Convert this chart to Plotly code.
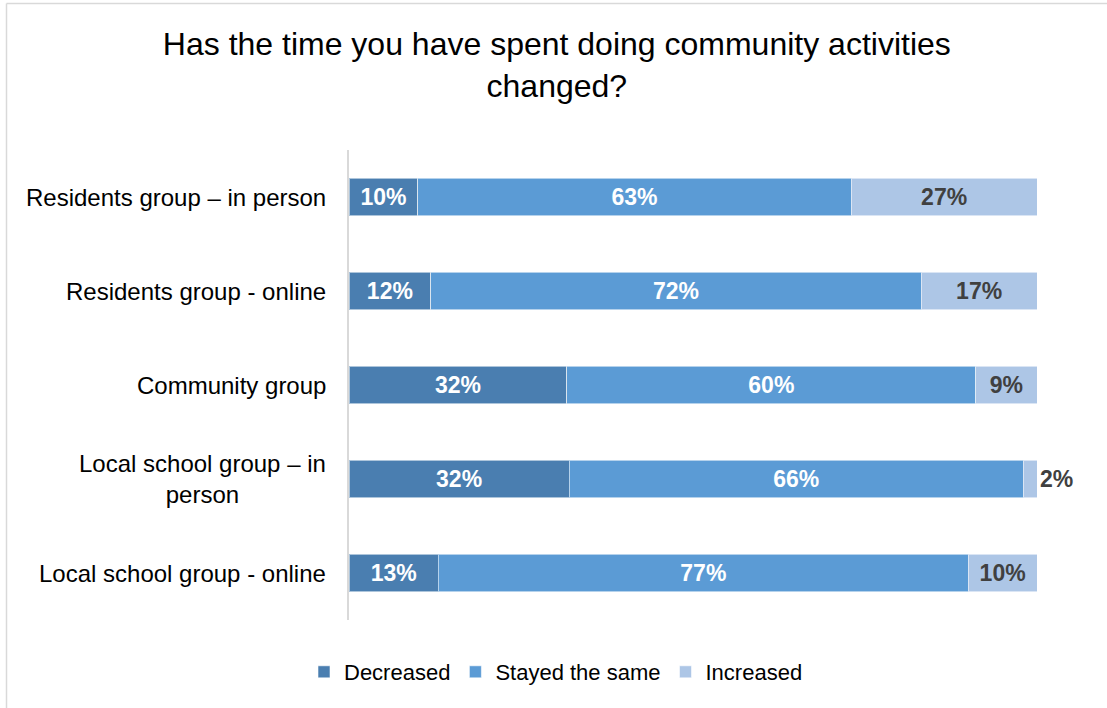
import plotly.graph_objects as go

categories = [
    "Residents group – in person",
    "Residents group - online",
    "Community group",
    "Local school group – in<br>person",
    "Local school group - online",
]
decreased = [10, 12, 32, 32, 13]
stayed_same = [63, 72, 60, 66, 77]
increased = [27, 17, 9, 2, 10]

series = [
    ("Decreased", decreased, "#4A7EB0", "white"),
    ("Stayed the same", stayed_same, "#5B9BD5", "white"),
    ("Increased", increased, "#ADC6E6", "#404040"),
]

W, H = 1107, 708
L, R, T, B = 349, 70, 150, 88
pw, ph = W - L - R, H - T - B

FONT = "Liberation Sans, Arial, sans-serif"

fig = go.Figure()
for name, vals, color, txtcolor in series:
    is_last = name == "Increased"
    positions = []
    for v in vals:
        positions.append("outside" if (is_last and v < 5) else "inside")
    fig.add_trace(go.Bar(
        name=name,
        y=list(range(len(categories))),
        x=vals,
        orientation="h",
        marker=dict(color=color, line=dict(color="rgba(255,255,255,0.55)", width=1)),
        customdata=vals,
        texttemplate="%{customdata}%",
        textposition=positions,
        insidetextanchor="middle",
        textangle=0,
        insidetextfont=dict(family=FONT, size=23, color=txtcolor, weight="bold"),
        outsidetextfont=dict(family=FONT, size=23, color="#404040", weight="bold"),
        cliponaxis=False,
        width=0.4,
        hoverinfo="skip",
    ))

# category labels, each block right-anchored with its lines centred
annotations = []
for i, cat in enumerate(categories):
    annotations.append(dict(
        text=cat, x=-21 / pw, xref="paper", y=i, yref="y",
        xanchor="right", yanchor="middle", align="center", showarrow=False,
        font=dict(family=FONT, size=24, color="black"),
    ))

# thin frame around the chart area
frame_x = -(L - 6.5) / pw
frame_y = 1 + (T - 3.5) / ph
shapes = [
    dict(type="line", xref="paper", yref="paper", x0=frame_x, x1=2, y0=frame_y, y1=frame_y,
         line=dict(color="#D9D9D9", width=1.5)),
    dict(type="line", xref="paper", yref="paper", x0=frame_x, x1=frame_x, y0=-1, y1=frame_y,
         line=dict(color="#D9D9D9", width=1.5)),
]

fig.update_layout(
    width=W, height=H,
    margin=dict(l=L, r=R, t=T, b=B),
    paper_bgcolor="white", plot_bgcolor="white",
    barmode="stack", barnorm="percent",
    title=dict(
        text="Has the time you have spent doing community activities<br>changed?",
        x=0.503, xanchor="center", y=1 - 55 / H, yanchor="middle",
        font=dict(family=FONT, size=32, color="black"),
    ),
    xaxis=dict(range=[0, 100], visible=False, fixedrange=True),
    yaxis=dict(
        range=[4.5, -0.5], showticklabels=False, showgrid=False, zeroline=False,
        showline=True, linecolor="#D9D9D9", linewidth=2, ticks="", fixedrange=True,
    ),
    legend=dict(
        orientation="h", x=(556 - L) / pw, xanchor="center", y=-(672 - (T + ph)) / ph,
        yanchor="middle", font=dict(family=FONT, size=22, color="black"),
        itemwidth=30, traceorder="normal",
    ),
    annotations=annotations,
    shapes=shapes,
    showlegend=True,
)

fig.write_html("out.html")
